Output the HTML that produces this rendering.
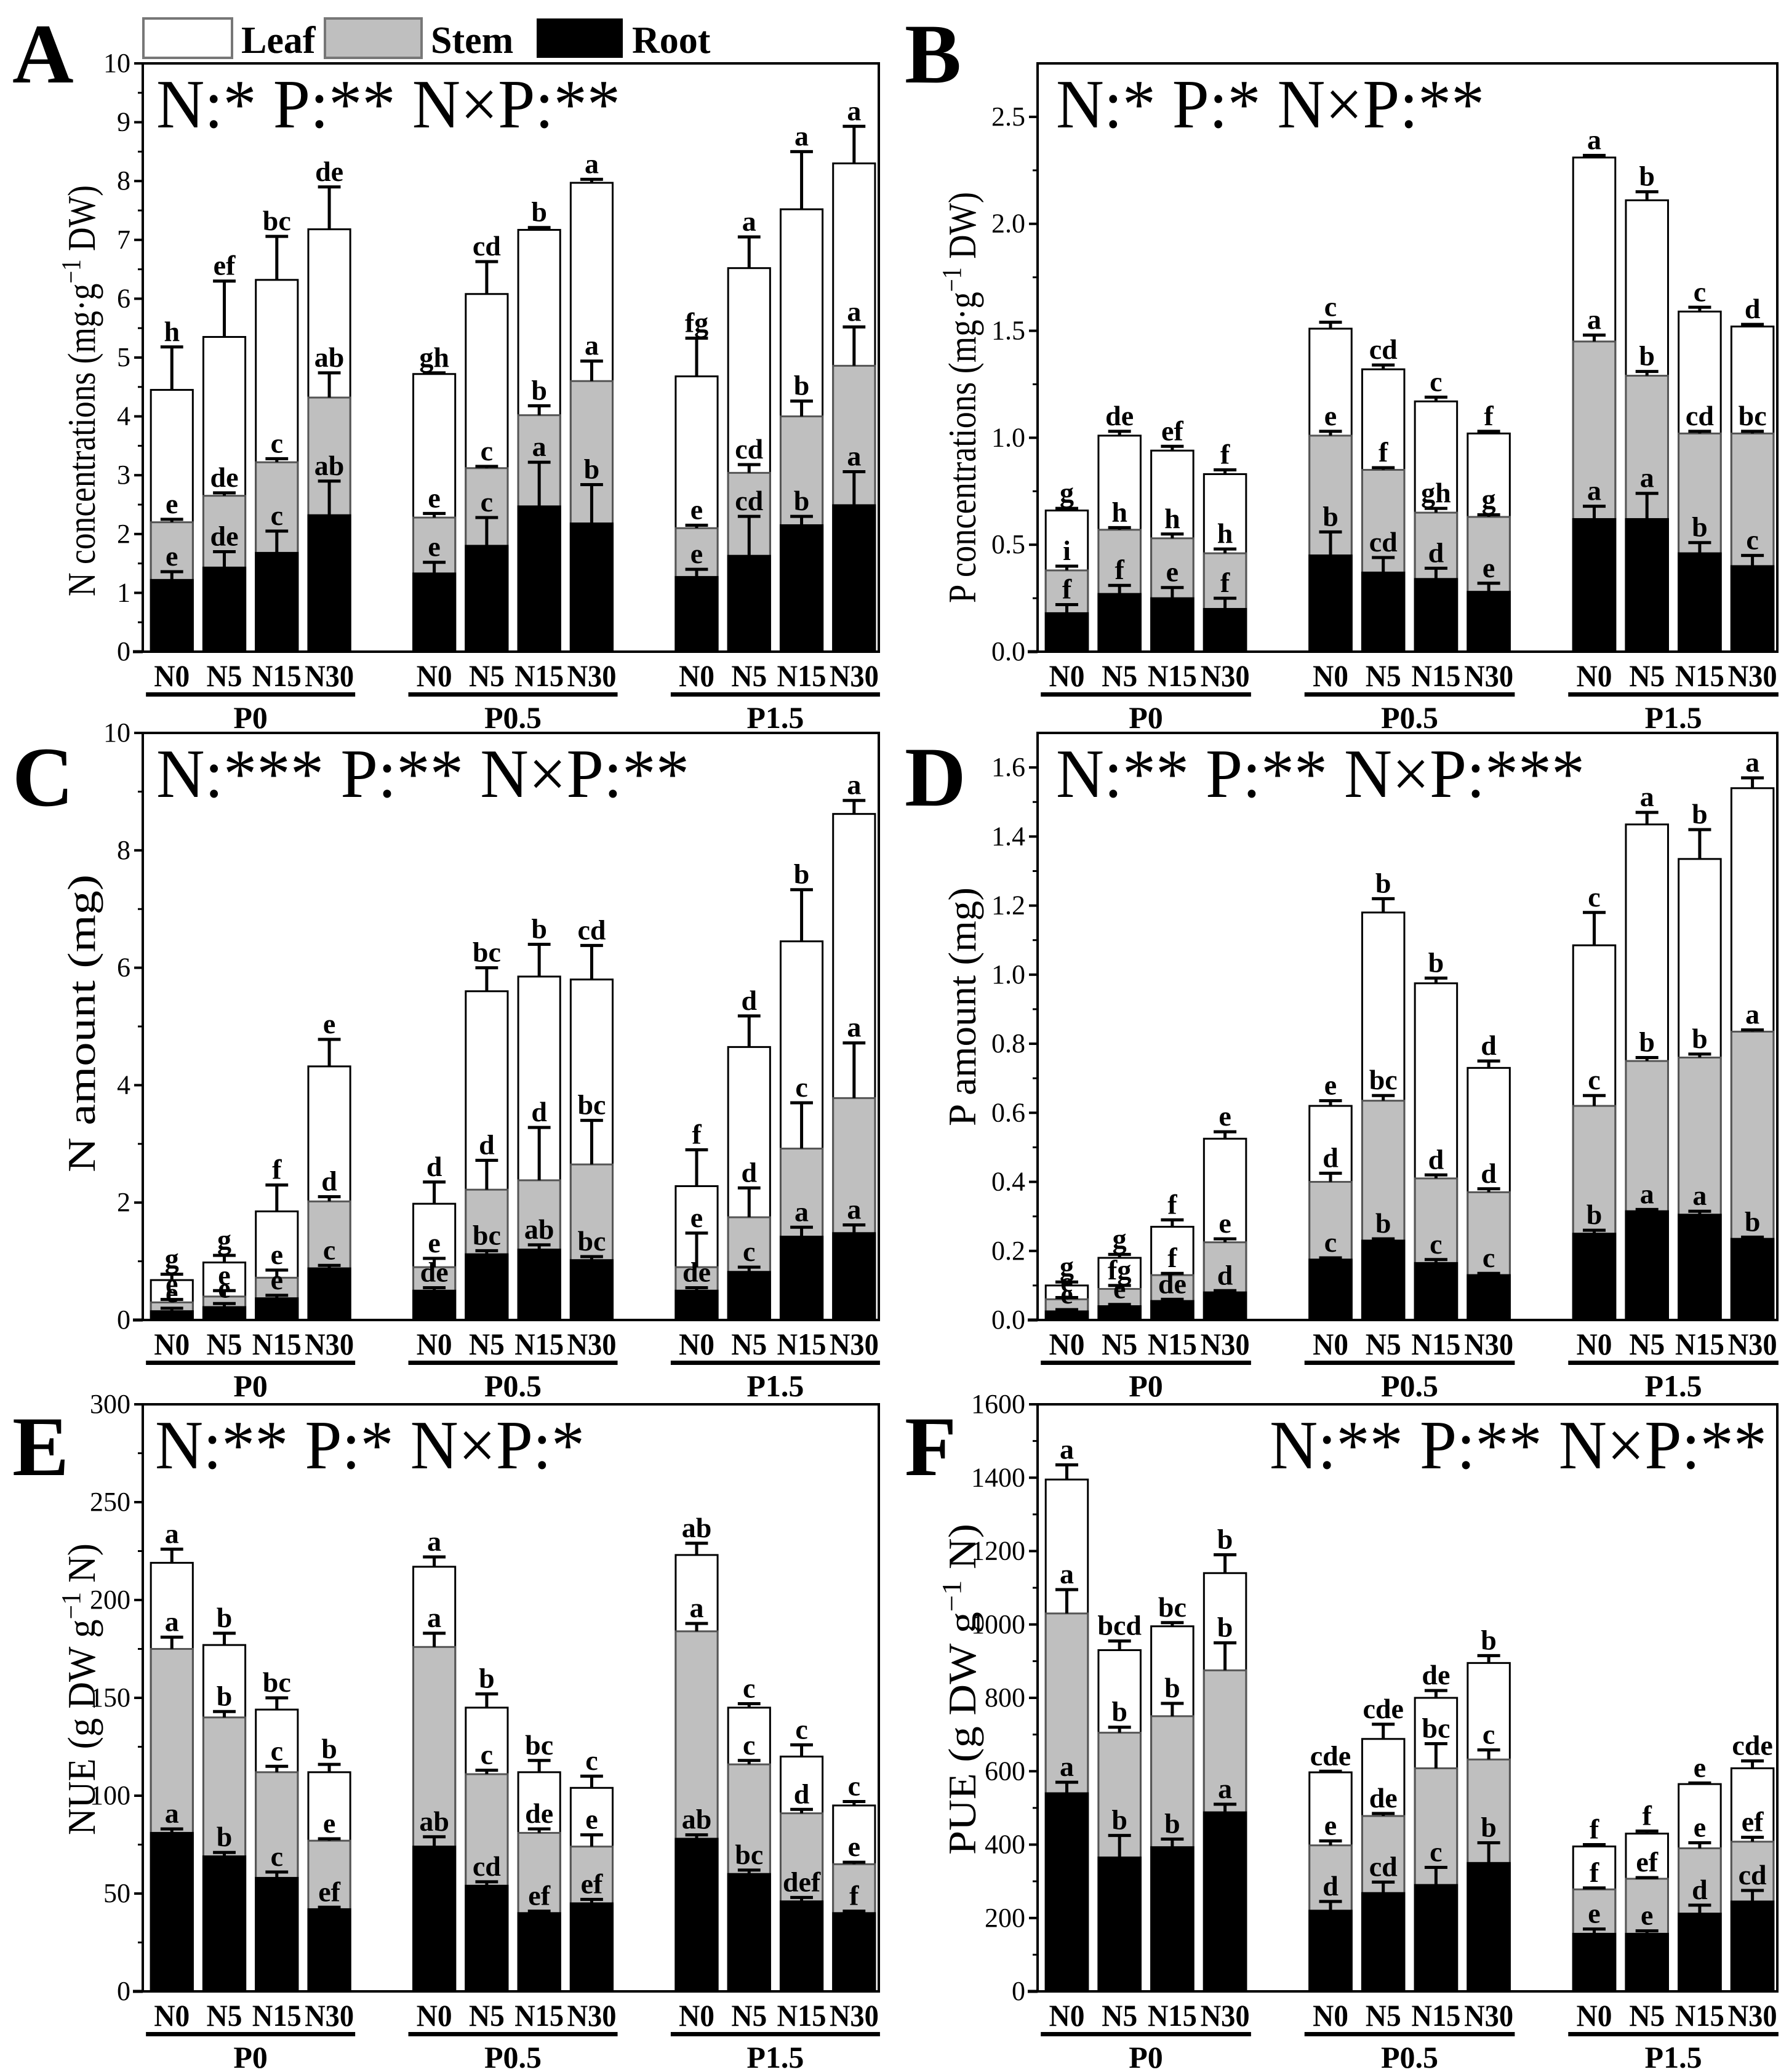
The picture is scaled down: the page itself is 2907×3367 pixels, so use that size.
<!DOCTYPE html>
<html><head><meta charset="utf-8"><style>
html,body{margin:0;padding:0;background:#fff}
svg{display:block}
text{font-family:"Liberation Serif",serif}
</style></head><body>
<svg id="fig" xmlns="http://www.w3.org/2000/svg" width="2907" height="3367" viewBox="0 0 2907 3367" font-family="Liberation Serif, serif">
<rect width="2907" height="3367" fill="#fff"/>
<g id="legend">
 <rect x="233" y="30" width="144" height="64" fill="#fff" stroke="#777" stroke-width="4"/>
 <text x="392" y="86" font-size="62" font-weight="bold">Leaf</text>
 <rect x="528" y="30" width="157" height="64" fill="#bfbfbf" stroke="#777" stroke-width="4"/>
 <text x="700" y="86" font-size="62" font-weight="bold">Stem</text>
 <rect x="872" y="30" width="140" height="64" fill="#000"/>
 <text x="1027" y="86" font-size="62" font-weight="bold">Root</text>
</g>
</svg>
<script>
const groups = ["P0","P0.5","P1.5"];
const treatments = ["N0","N5","N15","N30"];

const aRoot = [1.22,1.43,1.68,2.32, 1.33,1.80,2.47,2.18, 1.27,1.63,2.15,2.49];
const aRootCap = [1.36,1.70,2.05,2.90, 1.52,2.28,3.22,2.84, 1.40,2.30,2.30,3.06];
const aStem = [2.20,2.65,3.22,4.32, 2.28,3.12,4.02,4.60, 2.10,3.04,4.00,4.86];
const aStemCap = [2.25,2.70,3.28,4.74, 2.35,3.15,4.18,4.94, 2.15,3.18,4.26,5.52];
const aLeaf = [4.45,5.35,6.32,7.18, 4.72,6.08,7.17,7.97, 4.68,6.52,7.52,8.30];
const aLeafCap = [5.18,6.30,7.06,7.90, 4.74,6.63,7.21,8.03, 5.33,7.05,8.50,8.93];
const aRootLab = ["e","de","c","ab","e","c","a","b","e","cd","b","a"];
const aStemLab = ["e","de","c","ab","e","c","b","a","e","cd","b","a"];
const aLeafLab = ["h","ef","bc","de","gh","cd","b","a","fg","a","a","a"];

const bRoot = [0.18,0.27,0.25,0.20, 0.45,0.37,0.34,0.28, 0.62,0.62,0.46,0.40];
const bRootCap = [0.22,0.31,0.30,0.25, 0.56,0.44,0.39,0.32, 0.68,0.74,0.51,0.45];
const bStem = [0.38,0.57,0.53,0.46, 1.01,0.85,0.65,0.63, 1.45,1.29,1.02,1.02];
const bStemCap = [0.40,0.58,0.55,0.48, 1.03,0.86,0.67,0.64, 1.48,1.31,1.03,1.03];
const bLeaf = [0.66,1.01,0.94,0.83, 1.51,1.32,1.17,1.02, 2.31,2.11,1.59,1.52];
const bLeafCap = [0.67,1.03,0.96,0.85, 1.54,1.34,1.19,1.03, 2.32,2.15,1.61,1.53];
const bRootLab = ["f","f","e","f","b","cd","d","e","a","a","b","c"];
const bStemLab = ["i","h","h","h","e","f","gh","g","a","b","cd","bc"];
const bLeafLab = ["g","de","ef","f","c","cd","c","f","a","b","c","d"];

const cRoot = [0.15,0.22,0.37,0.88, 0.50,1.12,1.20,1.02, 0.50,0.82,1.42,1.48];
const cRootCap = [0.20,0.28,0.42,0.93, 0.55,1.18,1.28,1.08, 0.55,0.90,1.58,1.62];
const cStem = [0.30,0.40,0.72,2.02, 0.90,2.22,2.38,2.65, 0.90,1.75,2.92,3.78];
const cStemCap = [0.35,0.50,0.85,2.10, 1.05,2.72,3.28,3.40, 1.48,2.25,3.70,4.72];
const cLeaf = [0.68,0.98,1.85,4.32, 1.98,5.60,5.85,5.80, 2.28,4.65,6.45,8.62];
const cLeafCap = [0.78,1.10,2.30,4.78, 2.35,6.00,6.40,6.38, 2.90,5.18,7.33,8.85];
const cRootLab = ["e","e","e","c","de","bc","ab","bc","de","c","a","a"];
const cStemLab = ["e","e","e","d","e","d","d","bc","e","d","c","a"];
const cLeafLab = ["g","g","f","e","d","bc","b","cd","f","d","b","a"];

const dRoot = [0.025,0.040,0.055,0.080, 0.175,0.230,0.165,0.130, 0.250,0.315,0.305,0.235];
const dRootCap = [0.030,0.045,0.060,0.085, 0.180,0.235,0.175,0.135, 0.260,0.320,0.315,0.240];
const dStem = [0.060,0.090,0.130,0.225, 0.400,0.635,0.410,0.370, 0.620,0.750,0.760,0.835];
const dStemCap = [0.065,0.100,0.135,0.235, 0.425,0.650,0.420,0.380, 0.650,0.760,0.770,0.840];
const dLeaf = [0.100,0.180,0.270,0.525, 0.620,1.180,0.975,0.730, 1.085,1.435,1.335,1.540];
const dLeafCap = [0.110,0.190,0.290,0.545, 0.635,1.220,0.990,0.750, 1.180,1.470,1.420,1.570];
const dRootLab = ["e","e","de","d","c","b","c","c","b","a","a","b"];
const dStemLab = ["e","fg","f","e","d","bc","d","d","c","b","b","a"];
const dLeafLab = ["g","g","f","e","e","b","b","d","c","a","b","a"];

const eRoot = [81,69,58,42, 74,54,40,45, 78,60,46,40];
const eRootCap = [83,71,61,43, 79,56,41,47, 80,62,48,41];
const eStem = [175,140,112,77, 176,111,81,74, 184,116,91,65];
const eStemCap = [181,143,115,78, 183,113,83,80, 188,118,93,66];
const eLeaf = [219,177,144,112, 217,145,112,104, 223,145,120,95];
const eLeafCap = [226,183,150,116, 222,152,118,110, 229,147,126,97];
const eRootLab = ["a","b","c","ef","ab","cd","ef","ef","ab","bc","def","f"];
const eStemLab = ["a","b","c","e","a","c","de","e","a","c","d","e"];
const eLeafLab = ["a","b","bc","b","a","b","bc","c","ab","c","c","c"];

const fRoot = [540,365,393,488, 220,268,290,350, 157,157,212,245];
const fRootCap = [570,425,415,510, 245,298,338,405, 170,165,235,275];
const fStem = [1030,705,750,875, 398,478,608,632, 278,307,390,408];
const fStemCap = [1095,720,785,950, 410,485,675,658, 282,310,405,420];
const fLeaf = [1395,930,995,1140, 597,688,800,895, 395,430,565,608];
const fLeafCap = [1435,955,1005,1190, 600,728,820,915, 400,437,568,628];
const fRootLab = ["a","b","b","a","d","cd","c","b","e","e","d","cd"];
const fStemLab = ["a","b","b","b","e","de","bc","c","f","ef","e","ef"];
const fLeafLab = ["a","bcd","bc","b","cde","cde","de","b","f","f","e","cde"];

const aTicks = [0,1,2,3,4,5,6,7,8,9,10];
const bTicks = ["0.0","0.5","1.0","1.5","2.0","2.5"];
const cTicks = [0,2,4,6,8,10];
const dTicks = ["0.0","0.2","0.4","0.6","0.8","1.0","1.2","1.4","1.6"];
const eTicks = [0,50,100,150,200,250,300];
const fTicks = [0,200,400,600,800,1000,1200,1400,1600];

const NS="http://www.w3.org/2000/svg";
const svg=document.getElementById('fig');
function mk(tag,attrs,parent){const e=document.createElementNS(NS,tag);for(const k in attrs)e.setAttribute(k,attrs[k]);(parent||svg).appendChild(e);return e;}

const panels=[
 {id:"a",letter:"A",x0:232,x1:1428,y0:103,y1:1059,ymax:10,minor:0.5,ticks:aTicks,
  root:aRoot,rootCap:aRootCap,stem:aStem,stemCap:aStemCap,leaf:aLeaf,leafCap:aLeafCap,rl:aRootLab,sl:aStemLab,ll:aLeafLab,
  anova:"N:* P:** N×P:**",ax:254,aw:754,title:"N concentrations (mg·g",sup:"−1",title2:" DW)",tw:668,tx:134,ty:635,lx:20,ly:134},
 {id:"b",letter:"B",x0:1686,x1:2888,y0:103,y1:1059,ymax:2.75,minor:0.25,ticks:bTicks,
  root:bRoot,rootCap:bRootCap,stem:bStem,stemCap:bStemCap,leaf:bLeaf,leafCap:bLeafCap,rl:bRootLab,sl:bStemLab,ll:bLeafLab,
  anova:"N:* P:* N×P:**",ax:1716,aw:696,title:"P concentrations (mg·g",sup:"−1",title2:" DW)",tw:668,tx:1565,ty:646,lx:1470,ly:134},
 {id:"c",letter:"C",x0:232,x1:1428,y0:1191,y1:2145,ymax:10,minor:1,ticks:cTicks,
  root:cRoot,rootCap:cRootCap,stem:cStem,stemCap:cStemCap,leaf:cLeaf,leafCap:cLeafCap,rl:cRootLab,sl:cStemLab,ll:cLeafLab,
  anova:"N:*** P:** N×P:**",ax:254,aw:866,title:"N amount (mg)",sup:"",title2:"",tw:484,tx:134,ty:1663,lx:20,ly:1309},
 {id:"d",letter:"D",x0:1686,x1:2888,y0:1191,y1:2145,ymax:1.7,minor:0.1,ticks:dTicks,
  root:dRoot,rootCap:dRootCap,stem:dStem,stemCap:dStemCap,leaf:dLeaf,leafCap:dLeafCap,rl:dRootLab,sl:dStemLab,ll:dLeafLab,
  anova:"N:** P:** N×P:***",ax:1716,aw:859,title:"P amount (mg)",sup:"",title2:"",tw:388,tx:1565,ty:1636,lx:1470,ly:1309},
 {id:"e",letter:"E",x0:232,x1:1428,y0:2282,y1:3236,ymax:300,minor:25,ticks:eTicks,
  root:eRoot,rootCap:eRootCap,stem:eStem,stemCap:eStemCap,leaf:eLeaf,leafCap:eLeafCap,rl:eRootLab,sl:eStemLab,ll:eLeafLab,
  anova:"N:** P:* N×P:*",ax:252,aw:698,title:"NUE (g DW g",sup:"−1",title2:" N)",tw:474,tx:134,ty:2745,lx:20,ly:2397},
 {id:"f",letter:"F",x0:1686,x1:2888,y0:2282,y1:3236,ymax:1600,minor:100,ticks:fTicks,
  root:fRoot,rootCap:fRootCap,stem:fStem,stemCap:fStemCap,leaf:fLeaf,leafCap:fLeafCap,rl:fRootLab,sl:fStemLab,ll:fLeafLab,
  anova:"N:** P:** N×P:**",ax:2063,aw:808,title:"PUE (g DW g",sup:"−1",title2:" N)",tw:538,tx:1565,ty:2745,lx:1470,ly:2397}
];

const xlabW={"N0":58,"N5":58,"N15":80,"N30":80};

panels.forEach(p=>{
 const g=mk('g',{});
 
 
 const W=p.x1-p.x0, H=p.y1-p.y0;
 const yS=v=>p.y1-(v/p.ymax)*H;
 const bw=0.057*W;
 const xC=i=>{const gi=Math.floor(i/4),j=i%4;return p.x0+(0.0395+(5*gi+j)*0.0713)*W;};
 const segs=[["root",p.root,"#000",p.rootCap,p.rl],["stem",p.stem,"#bfbfbf",p.stemCap,p.sl],["leaf",p.leaf,"#fff",p.leafCap,p.ll]];
 for(let i=0;i<12;i++){
  const cx=xC(i);
  for(let s=2;s>=0;s--){
   const [nm,arr,col]=segs[s];
   const r=mk('rect',{x:cx-bw/2,y:yS(arr[i]),width:bw,height:p.y1-yS(arr[i]),fill:col,stroke:s==1?'#555':'#000','stroke-width':3},g);
   
   
  }
  for(let s=0;s<3;s++){
   const [nm,arr,col,cap,lab]=segs[s];
   const top=yS(arr[i]),ct=yS(cap[i]);
   const eb=mk('path',{d:`M${cx} ${top}V${ct}M${cx-bw*0.27} ${ct}H${cx+bw*0.27}`,stroke:'#000','stroke-width':5,fill:'none'},g);
   
   
   const t=mk('text',{x:cx,y:ct-10,'font-size':46,'font-weight':'bold','text-anchor':'middle'},g);
   t.textContent=lab[i];
   
   
  }
 }
 const fr=mk('rect',{x:p.x0,y:p.y0,width:W,height:H,fill:'none',stroke:'#000','stroke-width':4},g);
 
 
 mk('line',{x1:p.x0-16,x2:p.x0,y1:p.y1,y2:p.y1,stroke:'#000','stroke-width':5},g);
 p.ticks.forEach(tl=>{
  const v=parseFloat(tl);const y=yS(v);
  mk('line',{x1:p.x0-14,x2:p.x0,y1:y,y2:y,stroke:'#000','stroke-width':4},g);
  const t=mk('text',{x:p.x0-20,y:y+14,'font-size':44,'text-anchor':'end'},g);
  t.textContent=tl;
  
  
 });
 for(let v=p.minor;v<p.ymax-1e-9;v+=p.minor*2){
  const y=yS(v);
  mk('line',{x1:p.x0-8,x2:p.x0,y1:y,y2:y,stroke:'#000','stroke-width':3},g);
 }
 for(let i=0;i<12;i++){
  const t=mk('text',{x:xC(i),y:p.y1+56,'font-size':50,'font-weight':'bold','text-anchor':'middle',textLength:xlabW[treatments[i%4]],lengthAdjust:'spacingAndGlyphs'},g);
  t.textContent=treatments[i%4];
  
  
 }
 for(let gi=0;gi<3;gi++){
  const l=xC(gi*4)-bw/2-8,r=xC(gi*4+3)+bw/2+8;
  const ln=mk('rect',{x:l,y:p.y1+66,width:r-l,height:7,fill:'#000'},g);
  
  
  const t=mk('text',{x:(l+r)/2,y:p.y1+124,'font-size':50,'font-weight':'bold','text-anchor':'middle'},g);
  t.textContent=groups[gi];
  
  
 }
 const an=mk('text',{x:p.ax,y:p.y0+104,'font-size':112,textLength:p.aw,lengthAdjust:'spacingAndGlyphs'},g);
 an.textContent=p.anova;
 
 
 const tt=mk('text',{x:0,y:0,'font-size':64,'text-anchor':'middle',transform:`translate(${p.tx+20},${p.ty}) rotate(-90)`,textLength:p.tw,lengthAdjust:'spacingAndGlyphs'},g);
 
 
 tt.appendChild(document.createTextNode(p.title));
 if(p.sup){const ts=document.createElementNS(NS,'tspan');ts.setAttribute('dy','-24');ts.setAttribute('font-size','44');ts.textContent=p.sup;tt.appendChild(ts);
  const t2=document.createElementNS(NS,'tspan');t2.setAttribute('dy','24');t2.textContent=p.title2;tt.appendChild(t2);}
 const lt=mk('text',{x:p.lx,y:p.ly,'font-size':138,'font-weight':'bold'},g);
 lt.textContent=p.letter;
 
 
});
</script>
</body></html>
